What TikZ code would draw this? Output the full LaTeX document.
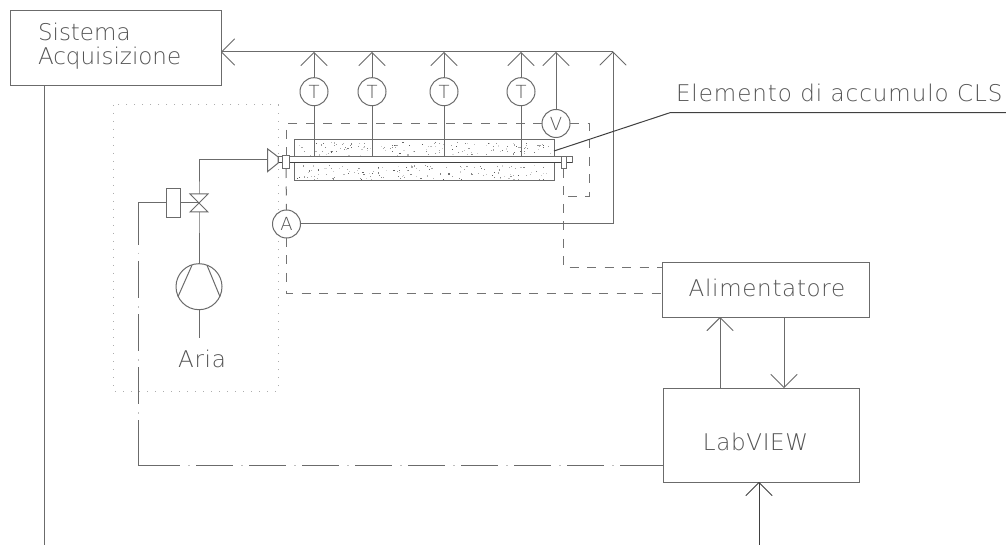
\documentclass[tikz,border=0pt]{standalone}
\usepackage{fontspec}
\usetikzlibrary{arrows.meta,calc}
\newfontfamily\cadfont[LetterSpace=3]{DejaVu Sans ExtraLight}
\newfontfamily\cadtight{DejaVu Sans ExtraLight}
\newfontfamily\cadwide[LetterSpace=4.2]{DejaVu Sans ExtraLight}
\definecolor{ln}{gray}{0.42}
\definecolor{dk}{gray}{0.25}
\definecolor{tx}{gray}{0.33}
\tikzset{
  x=1pt,y=-1pt,
  wire/.style={draw=ln,line width=1pt},
  darkwire/.style={draw=dk,line width=1pt},
  arr/.style={-{Straight Barb[length=13pt,width=26pt,line width=1pt,round]}},
  box/.style={draw=ln,line width=1pt,fill=white,rectangle,inner sep=0pt,outer sep=0pt},
  gauge/.style={draw=ln,line width=1pt,fill=white,circle,minimum size=28pt,inner sep=0pt,outer sep=0pt,font=\cadtight\fontsize{18}{18}\selectfont,text=tx},
  lbl/.style={font=\cadfont\fontsize{23}{23}\selectfont,text=tx,inner sep=0pt,outer sep=0pt},
  elec/.style={draw=black!55,line width=1pt,dash pattern=on 9pt off 8.5pt},
  ctrl/.style={draw=ln,line width=1pt,dash pattern=on 37pt off 16pt,dash phase=37pt},
  ctrldot/.style={draw=black!25,line width=1pt,dash pattern=on 1.5pt off 51.5pt,dash phase=45pt},
  frame/.style={draw=black!32,line width=1pt,dash pattern=on 1.2pt off 6.8pt},
}
\begin{document}
\begin{tikzpicture}
\useasboundingbox (0,0) rectangle (1006,545);
\fill[white] (0,0) rectangle (1006,545);

% dotted enclosure
\draw[frame] (113,105) rectangle (278,391);

% blocks
\node[box,minimum width=211pt,minimum height=75.5pt] (daq) at (115.5,47.8) {};
\node[box,minimum width=207pt,minimum height=54.5pt] (psu) at (765.5,289.8) {};
\node[box,minimum width=196pt,minimum height=94pt] (lab) at (761,435) {};

% labels
\node[lbl,font=\cadtight\fontsize{23}{23}\selectfont,anchor=base west] (t1) at (38,41) {Sistema};
\node[lbl,font=\cadtight\fontsize{23}{23}\selectfont,anchor=base west] (t2) at (38,65) {Acquisizione};
\node[lbl,anchor=base] (t3) at (767,296) {Alimentatore};
\node[lbl,anchor=base] (t4) at (755.5,450) {LabVIEW};
\node[lbl,anchor=base] (t5) at (202,367) {Aria};
\node[lbl,font=\cadwide\fontsize{23}{23}\selectfont,anchor=base west] (t6) at (676,102) {Elemento di accumulo CLS};

% storage element
\node[box,fill=none,minimum width=260pt,minimum height=17pt] (up) at (424,148.5) {};
\node[box,fill=none,minimum width=260pt,minimum height=18pt] (lo) at (424,172) {};
\pgfmathsetseed{42}
\foreach \i in {1,...,140}{
  \pgfmathsetmacro{\px}{297+rnd*254}
  \pgfmathsetmacro{\py}{142+rnd*13}
  \pgfmathsetmacro{\qx}{297+rnd*254}
  \pgfmathsetmacro{\qy}{165+rnd*14}
  \pgfmathsetmacro{\sh}{15+rnd*50}
  \fill[black!\sh] (\px,\py) rectangle ++(1.1,1.1);
  \fill[black!\sh] (\qx,\qy) rectangle ++(1.1,1.1);
}

% bus
\coordinate (bT1) at (314,52);
\coordinate (bT2) at (372,52);
\coordinate (bT3) at (444,52);
\coordinate (bT4) at (521,52);
\coordinate (bV) at (556,52);
\coordinate (bA) at (613,52);

% gauges
\node[gauge] (T1) at (314,91.7) {T};
\node[gauge] (T2) at (372,91.7) {T};
\node[gauge] (T3) at (444,91.7) {T};
\node[gauge] (T4) at (521,91.7) {T};
\node[gauge] (V) at (556,123.5) {V};
\node[gauge] (A) at (286.5,224) {A};

% tube and terminals
\node[box,minimum width=294pt,minimum height=6pt] (tube) at (425,160) {};
\draw[darkwire] (tube.south west) -- (tube.south east);
\node[box,minimum width=6.5pt,minimum height=13pt] (tl) at (286,162.5) {};
\node[box,minimum width=5pt,minimum height=12pt] (tr) at (563.5,163) {};

% dashed power wiring
\draw[elec] (V.west) -- (V.west -| tl.north) -- (tl.north);
\draw[elec] (tl.south) -- (A.north);
\draw[elec] (V.east) -- (589,123.5) -- (589,197) -- (563.5,197);
\draw[elec] (A.south) -- (286.5,293) -- (psu.west |- 0,293);
\draw[elec] (tr.south) -- (563.5,268) -- (psu.west |- 0,268);

% signal bus
\draw[wire,arr] (bA) -- (daq.east |- bA);
\draw[wire] (A.east) -- (A.east -| bA) -- (bA);
\foreach \n/\b in {T1/bT1,T2/bT2,T3/bT3,T4/bT4,V/bV}{
  \draw[wire,arr] (\n.north) -- (\b);
}
\foreach \n in {T1,T2,T3,T4}{
  \draw[wire] (\n.south) -- (\n.south |- tube.north);
}
% barb on the return line
\draw[wire,line cap=round] (600,65) -- (bA) -- (626,65);

% DAQ feed
\coordinate (daqout) at (44.5,545);
\draw[wire] (daq.south -| daqout) -- (daqout);

% labview links
\draw[wire,arr] (lab.north -| 720,0) -- (psu.south -| 720,0);
\draw[wire,arr] (psu.south -| 784,0) -- (lab.north -| 784,0);
\coordinate (labin) at (759,545);
\draw[darkwire,arr] (labin) -- (lab.south -| labin);

% air line
\coordinate (valve) at (199,203);
\node[draw=ln,line width=1pt,fill=white,circle,minimum size=46pt,inner sep=0pt,outer sep=0pt] (comp) at (199,286.7) {};
\node[box,minimum width=14pt,minimum height=29.5pt] (act) at (173,203) {};
\coordinate (airend) at (199,338);
\coordinate (nozzle) at (267.7,160);
\draw[wire] (comp.south) -- (airend);
\draw[wire] (comp.north) -- (valve) -- (valve |- nozzle) -- (nozzle);
\draw[wire] (act.east) -- (valve);
\draw[wire,fill=white] (valve) ++(-9,-9) -- ++(18,0) -- ++(-18,18) -- ++(18,0) -- cycle;
\draw[wire] ($(comp.center)+(-7,-21.5)$) -- ($(comp.center)+(-21,10)$);
\draw[wire] ($(comp.center)+(8,-21.5)$) -- ($(comp.center)+(21,10)$);
\draw[wire,fill=white] (nozzle) ++(0,-11) -- ++(10.5,8) -- ++(0,6) -- ++(-10.5,8.5) -- cycle;

% control line: each straight run has long end dashes
\coordinate (c1) at (138,245);
\coordinate (c2) at (138,421);
\coordinate (c3) at (180,465);
\coordinate (c4) at (620,465);
\draw[wire] (act.west) -- (act.west -| c1) -- (c1);
\draw[ctrl] (c1) -- (c2);
\draw[ctrldot] (c1) -- (c2);
\draw[wire] (c2) -- (c2 |- c3) -- (c3);
\draw[ctrl] (c3) -- (c4);
\draw[ctrldot] (c3) -- (c4);
\draw[wire] (c4) -- (lab.west |- c4);

% leader
\coordinate (lead) at (1006,112.7);
\draw[darkwire] (554,151) -- (670,112.7) -- (lead);
\end{tikzpicture}
\end{document}
